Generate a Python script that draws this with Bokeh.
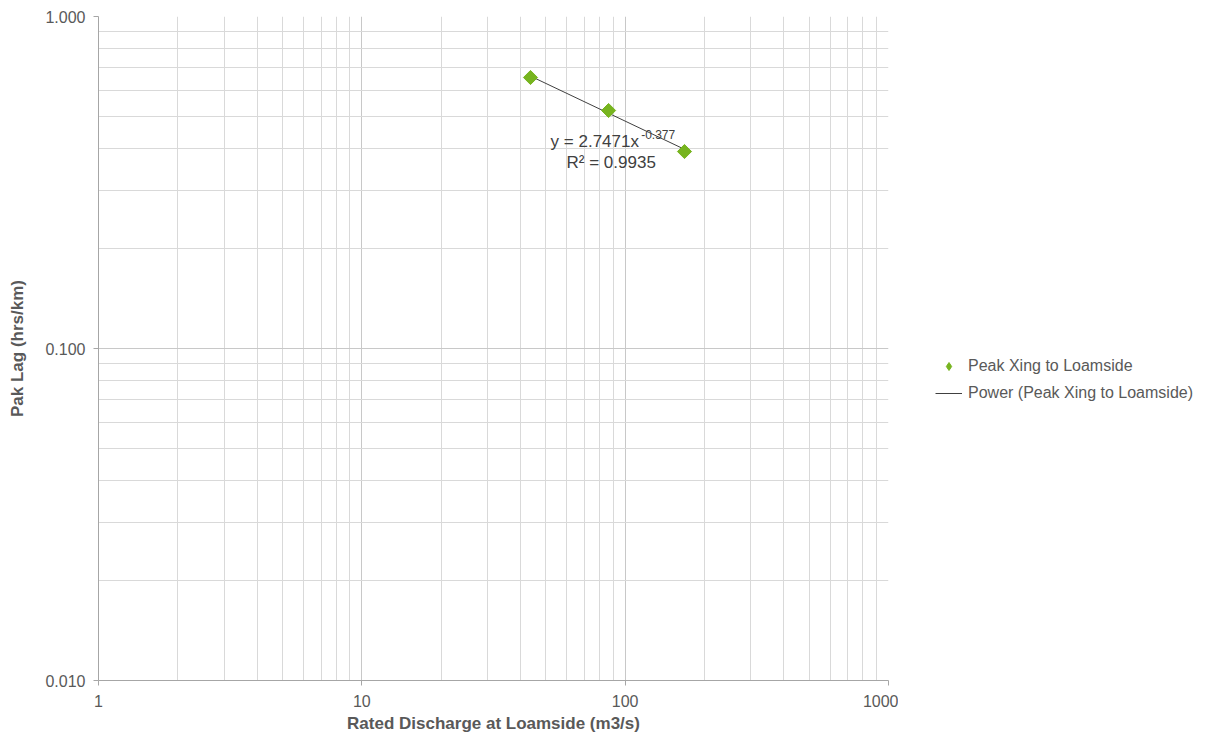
from bokeh.plotting import figure
from bokeh.layouts import row
from bokeh.models import (FixedTicker, PrintfTickFormatter, Legend, LegendItem, Label, Range1d)
from bokeh.embed import file_html
from bokeh.resources import INLINE
import numpy as np

# Data
discharge = [43.7, 86.5, 168.0]          # Rated Discharge at Loamside (m3/s)
peak_lag = [0.655, 0.521, 0.392]         # Pak Lag (hrs/km)
fit_a = 2.7471
fit_b = -0.377
x_ticks = [1, 10, 100, 1000]
y_ticks = [0.01, 0.1, 1.0]
series_name = "Peak Xing to Loamside"
trend_name = "Power (Peak Xing to Loamside)"

FONT = "Liberation Sans"
TXT = "#595959"
GREEN = "#77b41f"
TREND = "#404040"

p = figure(width=898, height=735, x_axis_type="log", y_axis_type="log",
           x_range=Range1d(1, 1000), y_range=Range1d(0.01, 1.0),
           output_backend="svg", toolbar_location=None,
           min_border_left=98, min_border_right=10, min_border_top=16, min_border_bottom=55)
p.outline_line_color = None

x_minor = [m * 10 ** e for e in range(0, 3) for m in range(2, 10)]
y_minor = [m * 10.0 ** e for e in range(-2, 0) for m in range(2, 10)]
p.xaxis.ticker = FixedTicker(ticks=x_ticks, minor_ticks=x_minor)
p.yaxis.ticker = FixedTicker(ticks=y_ticks, minor_ticks=y_minor)
p.xaxis.formatter = PrintfTickFormatter(format="%d")
p.yaxis.formatter = PrintfTickFormatter(format="%.3f")

for g in (p.xgrid, p.ygrid):
    g.grid_line_color = "#c8c8c8"
    g.minor_grid_line_color = "#d9d9d9"
    g.grid_line_width = 1
    g.minor_grid_line_width = 1

for ax in (p.xaxis, p.yaxis):
    ax.axis_line_color = "#a6a6a6"
    ax.major_tick_line_color = "#a6a6a6"
    ax.minor_tick_line_color = None
    ax.major_tick_in = 0
    ax.major_tick_out = 5
    ax.major_label_text_font = FONT
    ax.major_label_text_font_size = "16px"
    ax.major_label_text_color = TXT
    ax.axis_label_text_font = FONT
    ax.axis_label_text_font_size = "17px"
    ax.axis_label_text_font_style = "bold"
    ax.axis_label_text_color = TXT

p.xaxis.axis_label = "Rated Discharge at Loamside (m3/s)"
p.yaxis.axis_label = "Pak Lag (hrs/km)"
p.xaxis.major_label_standoff = 9
p.xaxis.axis_label_standoff = 4
p.yaxis.major_label_standoff = 8
p.yaxis.axis_label_standoff = 15

# trendline from fit
xt = np.array([discharge[0], discharge[-1]])
yt = fit_a * xt ** fit_b
p.line(xt, yt, line_color=TREND, line_width=1)
p.scatter(discharge, peak_lag, marker="square", angle=np.pi / 4, size=10,
          fill_color=GREEN, line_color=GREEN)

# annotation
p.add_layout(Label(x=52.1, y=0.420, text=f"y = {fit_a}x", text_font=FONT, text_font_size="17px",
                   text_color=TREND, text_baseline="middle"))
p.add_layout(Label(x=115.0, y=0.440, text=f"{fit_b}", text_font=FONT, text_font_size="12px",
                   text_color=TREND, text_baseline="middle"))
p.add_layout(Label(x=59.9, y=0.363, text="R² = 0.9935", text_font=FONT, text_font_size="17px",
                   text_color=TREND, text_baseline="middle"))

# legend panel (legend glyph renderers sit outside the visible range)
q = figure(width=308, height=735, x_range=Range1d(0, 1), y_range=Range1d(0, 1),
           output_backend="svg", toolbar_location=None,
           x_axis_location=None, y_axis_location=None, min_border=0)
q.outline_line_color = None
q.grid.visible = False
lp = q.scatter([5], [5], marker="diamond", size=11, fill_color=GREEN, line_color=GREEN)
ll = q.line([5, 6], [5, 6], line_color=TREND, line_width=1)
legend = Legend(items=[LegendItem(label=series_name, renderers=[lp]),
                       LegendItem(label=trend_name, renderers=[ll])],
                location=(37, 277), border_line_color=None, background_fill_alpha=0,
                label_text_font=FONT, label_text_font_size="16px", label_text_color=TXT,
                glyph_width=27, glyph_height=20, label_height=20, label_standoff=6,
                spacing=7, padding=0, margin=0)
q.add_layout(legend)

open("out.html", "w").write(file_html(row(p, q), INLINE))
